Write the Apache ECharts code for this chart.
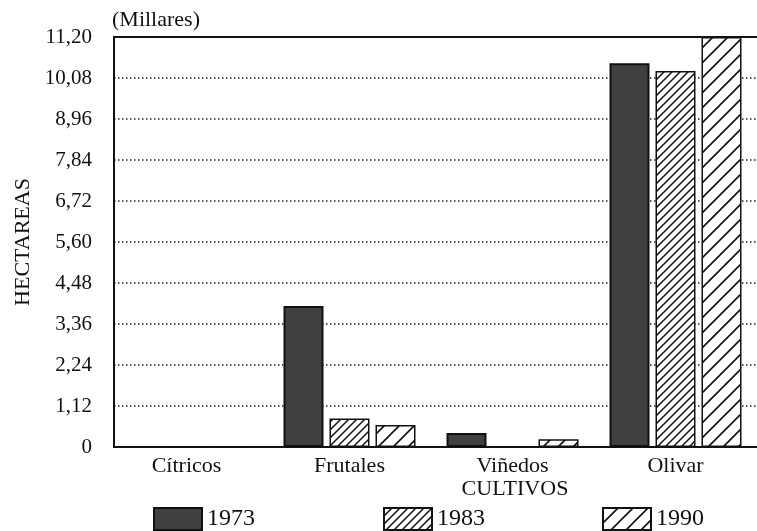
<!DOCTYPE html>
<html>
<head>
<meta charset="utf-8">
<script src="https://cdn.jsdelivr.net/npm/echarts@6/dist/echarts.min.js"></script>
<style>
html,body{margin:0;padding:0;background:#fff;}
#chart{width:757px;height:531px;}
</style>
</head>
<body>
<div id="chart"></div>
<script>
// ---- data ----
var categories = ['Cítricos', 'Frutales', 'Viñedos', 'Olivar'];
var seriesNames = ['1973', '1983', '1990'];
var values1973 = [0, 3.85, 0.38, 10.48];
var values1983 = [0, 0.78, 0, 10.27];
var values1990 = [0, 0.60, 0.21, 11.2];
var yTickLabels = ['0', '1,12', '2,24', '3,36', '4,48', '5,60', '6,72', '7,84', '8,96', '10,08', '11,20'];
var yMax = 11.2, yStep = 1.12;

function hatch(size, lw) {
  var c = document.createElement('canvas');
  c.width = size; c.height = size;
  var ctx = c.getContext('2d');
  ctx.fillStyle = '#fff';
  ctx.fillRect(0, 0, size, size);
  ctx.strokeStyle = '#111';
  ctx.lineWidth = lw;
  ctx.lineCap = 'square';
  ctx.beginPath();
  ctx.moveTo(-2, 2); ctx.lineTo(2, -2);
  ctx.moveTo(0, size); ctx.lineTo(size, 0);
  ctx.moveTo(size - 2, size + 2); ctx.lineTo(size + 2, size - 2);
  ctx.stroke();
  return c;
}
var pat1983 = { image: hatch(8, 1.5), repeat: 'repeat' };
var pat1990 = { image: hatch(15, 1.6), repeat: 'repeat' };

var FONT = 'Liberation Serif';
var chart = echarts.init(document.getElementById('chart'), null, { renderer: 'canvas' });

function legendAt(name, left) {
  return {
    data: [name], left: left, top: 507, orient: 'horizontal',
    itemWidth: 48, itemHeight: 22, padding: 0, icon: 'rect',
    selectedMode: false,
    textStyle: { fontFamily: FONT, fontSize: 24, color: '#111' }
  };
}

var option = {
  backgroundColor: '#fff',
  animation: false,
  title: {
    text: '(Millares)', left: 112, top: 9, padding: 0,
    textStyle: { fontFamily: FONT, fontSize: 22, fontWeight: 'normal', color: '#111' }
  },
  legend: [legendAt('1973', 153), legendAt('1983', 383), legendAt('1990', 602)],
  graphic: [{
    type: 'text', x: 515, y: 478,
    style: { text: 'CULTIVOS', font: '22px "' + FONT + '"', fill: '#111', textAlign: 'center' }
  }],
  grid: [
    { left: 105, top: 37, width: 654, height: 410 },
    { left: 114, top: 37, width: 643, height: 410 }
  ],
  xAxis: [
    {
      gridIndex: 0, type: 'category', data: categories,
      axisLine: { show: false }, axisTick: { show: false },
      axisLabel: { margin: 8, fontFamily: FONT, fontSize: 22, color: '#111' }
    },
    {
      gridIndex: 1, type: 'value', min: 0, max: 1, position: 'bottom',
      axisLine: { show: true, onZero: false, lineStyle: { color: '#111', width: 2 } },
      axisTick: { show: false }, axisLabel: { show: false }, splitLine: { show: false }
    },
    {
      gridIndex: 1, type: 'value', min: 0, max: 1, position: 'top',
      axisLine: { show: true, onZero: false, lineStyle: { color: '#111', width: 2 } },
      axisTick: { show: false }, axisLabel: { show: false }, splitLine: { show: false }
    }
  ],
  yAxis: [
    { gridIndex: 0, type: 'value', min: 0, max: yMax, interval: yStep, show: false },
    {
      gridIndex: 1, type: 'value', min: 0, max: yMax, interval: yStep,
      name: 'HECTAREAS', nameLocation: 'middle', nameGap: 78,
      nameTextStyle: { fontFamily: FONT, fontSize: 22, color: '#111' },
      axisLine: { show: true, lineStyle: { color: '#111', width: 2 } },
      axisTick: { show: false },
      axisLabel: {
        margin: 22, fontFamily: FONT, fontSize: 21, color: '#111',
        formatter: function (v) { return yTickLabels[Math.round(v / yStep)]; }
      },
      splitLine: { show: true, lineStyle: { color: '#222', width: 1.5, type: [1.5, 2.5] } }
    }
  ],
  series: [
    {
      name: seriesNames[0], type: 'bar', xAxisIndex: 0, yAxisIndex: 0,
      data: values1973, barWidth: 40, barGap: '15%',
      itemStyle: { color: '#404040', borderColor: '#111', borderWidth: 2 }
    },
    {
      name: seriesNames[1], type: 'bar', xAxisIndex: 0, yAxisIndex: 0,
      data: values1983, barWidth: 40, barGap: '15%',
      itemStyle: { color: pat1983, borderColor: '#111', borderWidth: 1.5 }
    },
    {
      name: seriesNames[2], type: 'bar', xAxisIndex: 0, yAxisIndex: 0,
      data: values1990, barWidth: 40, barGap: '15%',
      itemStyle: { color: pat1990, borderColor: '#111', borderWidth: 1.5 }
    }
  ]
};
chart.setOption(option);
</script>
</body>
</html>
